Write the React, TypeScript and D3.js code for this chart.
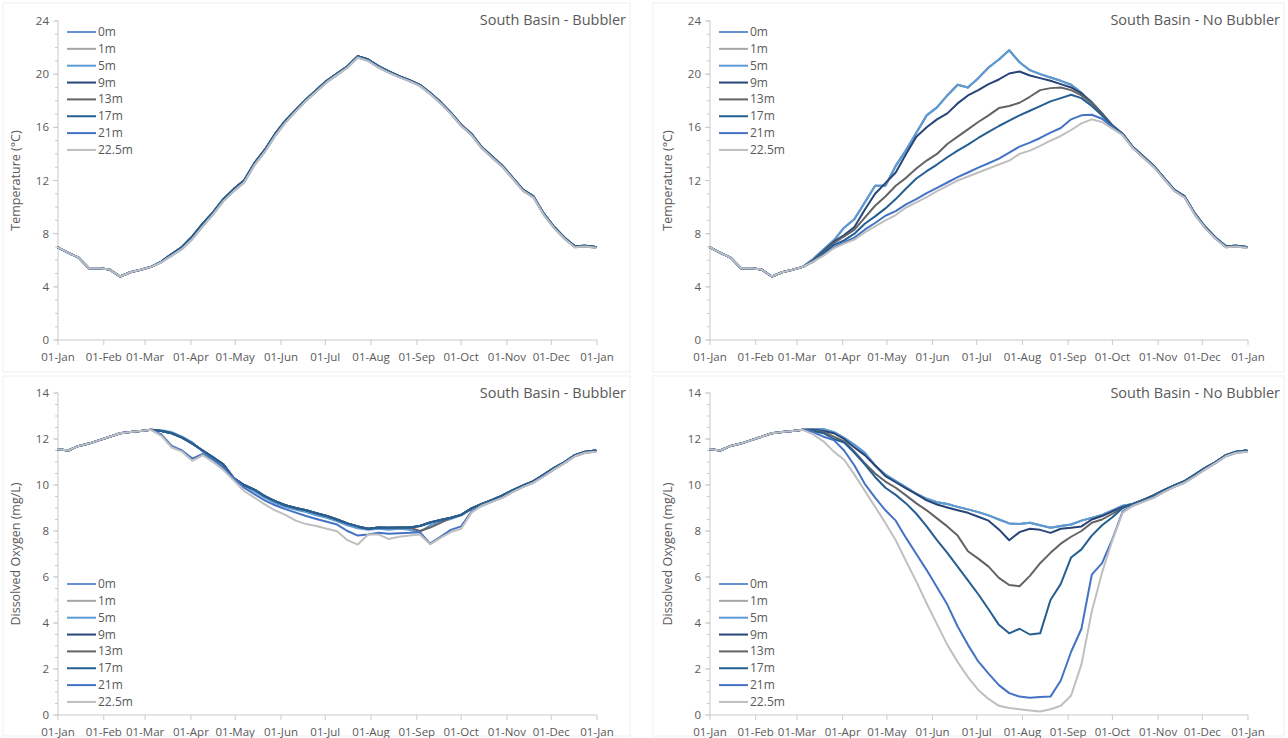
import React from "react";
import * as d3 from "d3";

// Sample dates (day of year) shared by every logger series
const sampleDays = [
  0, 7, 14, 21, 28, 35, 42, 49, 56, 63, 70, 77, 84, 91, 98, 105, 112, 119, 126, 133,
  140, 147, 154, 161, 168, 175, 182, 189, 196, 203, 210, 217, 224, 231, 238, 245, 252,
  259, 266, 273, 280, 287, 294, 301, 308, 315, 322, 329, 336, 343, 350, 357, 364,
];

const monthStartDays = [0, 31, 59, 90, 120, 151, 181, 212, 243, 273, 304, 334, 365];
const monthLabels = [
  "01-Jan", "01-Feb", "01-Mar", "01-Apr", "01-May", "01-Jun", "01-Jul",
  "01-Aug", "01-Sep", "01-Oct", "01-Nov", "01-Dec", "01-Jan",
];

const depthLabels = ["0m", "1m", "5m", "9m", "13m", "17m", "21m", "22.5m"];
const depthColors = [
  "#6890d6", "#a5a5a5", "#5b9bd5", "#264478", "#636363", "#255e91", "#4472c4", "#bfbfbf",
];

// ---- Temperature (°C) ----
// Jan 1 – Mar 5 (fully mixed water column)
const tempWinter = [6.97, 6.55, 6.2, 5.4, 5.4, 5.3, 4.78, 5.1, 5.28, 5.5];
// Oct 8 – Dec 31 (after autumn turnover)
const tempAutumn = [15.5, 14.5, 13.8, 13.1, 12.2, 11.3, 10.8, 9.5, 8.5, 7.7, 7.05, 7.1, 7.0];
const tempAutumnDeep = [15.42, 14.42, 13.72, 13.02, 12.12, 11.22, 10.72, 9.42, 8.42, 7.62, 6.98, 7.03, 6.94];

// Mar 12 – Oct 1, bubbler station
const tempBubblerSummer = [
  5.9, 6.47, 7.0, 7.8, 8.75, 9.6, 10.6, 11.35, 12.0, 13.3,
  14.3, 15.5, 16.5, 17.3, 18.1, 18.8, 19.5, 20.05, 20.6, 21.35,
  21.1, 20.6, 20.2, 19.85, 19.55, 19.2, 18.6, 17.9, 17.1, 16.2,
];
const tempBubblerSummerDeep = [
  5.85, 6.35, 6.85, 7.6, 8.55, 9.45, 10.45, 11.2, 11.85, 13.15,
  14.15, 15.35, 16.35, 17.2, 18.0, 18.7, 19.4, 19.95, 20.5, 21.25,
  21.0, 20.5, 20.12, 19.78, 19.48, 19.12, 18.52, 17.82, 17.02, 16.12,
];

// Mar 12 – Oct 1, station without bubbler
const tempNoBub5m = [
  6.1, 6.8, 7.5, 8.45, 9.1, 10.35, 11.6, 11.6, 13.1, 14.3,
  15.6, 16.9, 17.5, 18.4, 19.2, 19.0, 19.7, 20.5, 21.1, 21.8,
  20.9, 20.3, 20.0, 19.75, 19.5, 19.2, 18.6, 17.7, 16.9, 16.1,
];
const tempNoBub9m = [
  6.0, 6.7, 7.4, 7.9, 8.5, 9.8, 11.0, 11.8, 12.6, 14.0,
  15.3, 16.0, 16.6, 17.05, 17.8, 18.4, 18.8, 19.25, 19.6, 20.05,
  20.2, 19.9, 19.7, 19.5, 19.25, 19.0, 18.55, 17.9, 17.05, 16.15,
];
const tempNoBub13m = [
  5.95, 6.6, 7.3, 7.8, 8.3, 9.2, 10.1, 10.8, 11.6, 12.2,
  12.9, 13.5, 14.0, 14.75, 15.3, 15.85, 16.4, 16.9, 17.45, 17.6,
  17.85, 18.3, 18.8, 18.95, 19.0, 18.8, 18.4, 17.85, 17.05, 16.15,
];
const tempNoBub17m = [
  5.9, 6.5, 7.15, 7.5, 8.0, 8.75, 9.3, 9.9, 10.6, 11.4,
  12.15, 12.7, 13.2, 13.75, 14.25, 14.7, 15.2, 15.65, 16.1, 16.5,
  16.9, 17.25, 17.6, 17.95, 18.2, 18.45, 18.2, 17.6, 16.9, 16.1,
];
const tempNoBub21m = [
  5.9, 6.4, 6.95, 7.35, 7.7, 8.3, 8.8, 9.35, 9.7, 10.2,
  10.6, 11.05, 11.45, 11.85, 12.25, 12.6, 12.97, 13.3, 13.65, 14.1,
  14.55, 14.85, 15.2, 15.6, 15.95, 16.6, 16.9, 16.95, 16.65, 16.0,
];
const tempNoBub225m = [
  5.9, 6.35, 6.9, 7.25, 7.55, 8.1, 8.55, 9.0, 9.4, 9.97,
  10.35, 10.75, 11.2, 11.6, 12.0, 12.3, 12.6, 12.9, 13.2, 13.5,
  14.0, 14.25, 14.6, 15.0, 15.35, 15.8, 16.3, 16.6, 16.4, 15.9,
];

// ---- Dissolved oxygen (mg/L) ----
// Jan 1 – Mar 5
const doWinter = [11.55, 11.5, 11.7, 11.8, 11.95, 12.1, 12.25, 12.3, 12.35, 12.4];
// Oct 15 – Dec 31
const doAutumn = [9.18, 9.35, 9.55, 9.78, 9.98, 10.17, 10.45, 10.75, 11.0, 11.3, 11.45, 11.5];
const doAutumnDeep = [9.1, 9.28, 9.45, 9.7, 9.92, 10.1, 10.38, 10.68, 10.95, 11.25, 11.4, 11.45];

// Mar 12 – Oct 8, bubbler station
const doBubblerUpper = [
  12.35, 12.25, 12.06, 11.8, 11.5, 11.2, 10.9, 10.3, 10.0, 9.8,
  9.52, 9.3, 9.12, 9.0, 8.9, 8.77, 8.65, 8.5, 8.33, 8.2,
  8.1, 8.15, 8.14, 8.15, 8.15, 8.22, 8.37, 8.48, 8.58, 8.7, 8.98,
];
const doBubbler5m = [
  12.38, 12.3, 12.1, 11.85, 11.45, 11.15, 10.85, 10.25, 9.95, 9.72,
  9.45, 9.22, 9.05, 8.92, 8.82, 8.68, 8.57, 8.42, 8.25, 8.12,
  8.05, 8.1, 8.05, 8.1, 8.05, 7.95, 8.25, 8.4, 8.52, 8.68, 8.95,
];
const doBubbler13m = [
  12.35, 12.25, 12.06, 11.8, 11.5, 11.2, 10.9, 10.3, 10.0, 9.8,
  9.52, 9.3, 9.12, 9.0, 8.9, 8.77, 8.65, 8.5, 8.33, 8.2,
  8.1, 8.15, 8.14, 8.15, 8.15, 8.0, 8.15, 8.35, 8.58, 8.7, 8.98,
];
const doBubbler21m = [
  12.2, 11.7, 11.5, 11.15, 11.35, 11.1, 10.75, 10.3, 9.88, 9.6,
  9.33, 9.12, 8.95, 8.8, 8.65, 8.52, 8.4, 8.28, 8.0, 7.8,
  7.85, 7.92, 7.88, 7.9, 7.92, 7.95, 7.45, 7.75, 8.05, 8.2, 8.85,
];
const doBubbler225m = [
  12.14, 11.63, 11.45, 11.05, 11.3, 11.0, 10.65, 10.2, 9.74, 9.45,
  9.16, 8.9, 8.7, 8.45, 8.3, 8.22, 8.1, 7.99, 7.6, 7.41,
  7.85, 7.85, 7.65, 7.75, 7.8, 7.85, 7.42, 7.7, 7.95, 8.1, 8.8,
];

// Mar 12 – Oct 8, station without bubbler
const doNoBub5m = [
  12.42, 12.43, 12.3, 12.05, 11.75, 11.4, 10.85, 10.45, 10.17, 9.9,
  9.62, 9.4, 9.25, 9.17, 9.05, 8.94, 8.82, 8.68, 8.5, 8.33,
  8.3, 8.36, 8.25, 8.14, 8.22, 8.28, 8.45, 8.57, 8.7, 8.9, 9.1,
];
const doNoBub9m = [
  12.4, 12.35, 12.25, 12.0, 11.63, 11.3, 10.85, 10.39, 10.12, 9.85,
  9.6, 9.33, 9.15, 9.02, 8.9, 8.79, 8.62, 8.45, 8.07, 7.6,
  7.95, 8.1, 8.05, 7.92, 8.1, 8.14, 8.2, 8.5, 8.65, 8.85, 9.05,
];
const doNoBub13m = [
  12.38, 12.3, 12.1, 11.9, 11.45, 10.95, 10.5, 10.15, 9.88, 9.55,
  9.2, 8.9, 8.55, 8.2, 7.8, 7.12, 6.8, 6.45, 5.96, 5.65,
  5.6, 6.05, 6.6, 7.05, 7.45, 7.75, 8.0, 8.36, 8.5, 8.75, 9.0,
];
const doNoBub17m = [
  12.35, 12.25, 12.0, 11.85, 11.4, 10.9, 10.35, 9.88, 9.57, 9.2,
  8.75, 8.2, 7.6, 7.05, 6.45, 5.85, 5.25, 4.6, 3.92, 3.55,
  3.75, 3.5, 3.55, 5.0, 5.7, 6.85, 7.2, 7.8, 8.25, 8.6, 9.0,
];
const doNoBub21m = [
  12.3, 12.1, 11.95, 11.5, 10.85, 10.05, 9.45, 8.9, 8.45, 7.7,
  7.0, 6.3, 5.55, 4.8, 3.85, 3.05, 2.33, 1.8, 1.3, 0.95,
  0.8, 0.75, 0.78, 0.8, 1.5, 2.75, 3.75, 6.1, 6.6, 7.65, 8.85,
];
const doNoBub225m = [
  12.2, 11.9, 11.45, 11.1, 10.45, 9.75, 9.05, 8.35, 7.6, 6.69,
  5.8, 4.85, 3.95, 3.05, 2.3, 1.65, 1.09, 0.7, 0.4, 0.3,
  0.25, 0.2, 0.15, 0.25, 0.4, 0.85, 2.2, 4.5, 6.2, 7.6, 8.8,
];

const tempSeries = (summer: number[], autumn: number[] = tempAutumn) => [...tempWinter, ...summer, ...autumn];
const doSeries = (summer: number[], autumn: number[] = doAutumn) => [...doWinter, ...summer, ...autumn];

const tempBubbler = [
  tempSeries(tempBubblerSummer), tempSeries(tempBubblerSummer), tempSeries(tempBubblerSummer),
  tempSeries(tempBubblerSummer), tempSeries(tempBubblerSummer), tempSeries(tempBubblerSummer),
  tempSeries(tempBubblerSummerDeep, tempAutumnDeep), tempSeries(tempBubblerSummerDeep, tempAutumnDeep),
];
const tempNoBubbler = [
  tempSeries(tempNoBub5m), tempSeries(tempNoBub5m), tempSeries(tempNoBub5m),
  tempSeries(tempNoBub9m), tempSeries(tempNoBub13m), tempSeries(tempNoBub17m),
  tempSeries(tempNoBub21m, tempAutumnDeep), tempSeries(tempNoBub225m, tempAutumnDeep),
];
const doBubbler = [
  doSeries(doBubblerUpper), doSeries(doBubblerUpper), doSeries(doBubbler5m),
  doSeries(doBubblerUpper), doSeries(doBubbler13m), doSeries(doBubblerUpper),
  doSeries(doBubbler21m, doAutumnDeep), doSeries(doBubbler225m, doAutumnDeep),
];
const doNoBubbler = [
  doSeries(doNoBub5m), doSeries(doNoBub5m), doSeries(doNoBub5m),
  doSeries(doNoBub9m), doSeries(doNoBub13m), doSeries(doNoBub17m),
  doSeries(doNoBub21m, doAutumnDeep), doSeries(doNoBub225m, doAutumnDeep),
];

const TEXT = "#595959";
const AXIS = "#c9c9c9";
const FONT = "'Open Sans', 'DejaVu Sans', sans-serif";

type PanelProps = {
  title: string;
  yTitle: string;
  x0: number;
  x1: number;
  yTop: number;
  yBottom: number;
  yMax: number;
  majorStep: number;
  minorStep: number;
  series: number[][];
  legendTop: number;
  frame: [number, number, number, number];
};

function Panel(p: PanelProps) {
  const x = d3.scaleLinear().domain([0, 365]).range([p.x0, p.x1]);
  const y = d3.scaleLinear().domain([0, p.yMax]).range([p.yBottom, p.yTop]);
  const line = d3
    .line<number>()
    .x((_, i) => x(sampleDays[i]))
    .y((v) => y(v))
    .curve(d3.curveLinear);
  const majors = d3.range(0, p.yMax + 1e-6, p.majorStep);
  const minors = d3.range(0, p.yMax + 1e-6, p.minorStep);
  const [fx0, fy0, fx1, fy1] = p.frame;
  const legendX = p.x0 + 9;
  const legendStep = 16.85;

  return (
    <g>
      <rect x={fx0} y={fy0} width={fx1 - fx0} height={fy1 - fy0} fill="#fff" stroke="#efefef" strokeWidth={1} />
      <text x={fx1 - 4} y={fy0 + 22} textAnchor="end" fontSize={14.5} fill={TEXT} fontFamily={FONT}>
        {p.title}
      </text>
      <text
        transform={`translate(${p.x0 - 38},${(p.yTop + p.yBottom) / 2}) rotate(-90)`}
        textAnchor="middle"
        fontSize={12.5}
        fill={TEXT}
        fontFamily={FONT}
      >
        {p.yTitle}
      </text>

      {/* y axis */}
      <line x1={p.x0} x2={p.x0} y1={p.yTop} y2={p.yBottom} stroke={AXIS} />
      {minors.map((v) => (
        <line key={`mn${v}`} x1={p.x0 - 3} x2={p.x0} y1={y(v)} y2={y(v)} stroke={AXIS} />
      ))}
      {majors.map((v) => (
        <g key={`mj${v}`}>
          <line x1={p.x0 - 5} x2={p.x0} y1={y(v)} y2={y(v)} stroke={AXIS} />
          <text x={p.x0 - 9} y={y(v) + 4} textAnchor="end" fontSize={11.5} fill={TEXT} fontFamily={FONT}>
            {v}
          </text>
        </g>
      ))}

      {/* x axis */}
      <line x1={p.x0} x2={p.x1} y1={p.yBottom} y2={p.yBottom} stroke={AXIS} />
      {monthStartDays.map((d, i) => (
        <g key={`m${i}`}>
          <line x1={x(d)} x2={x(d)} y1={p.yBottom} y2={p.yBottom + 5} stroke={AXIS} />
          <text x={x(d)} y={p.yBottom + 21} textAnchor="middle" fontSize={11.5} fill={TEXT} fontFamily={FONT}>
            {monthLabels[i]}
          </text>
        </g>
      ))}

      {/* series */}
      {p.series.map((vals, i) => (
        <path
          key={`s${i}`}
          d={line(vals) ?? ""}
          fill="none"
          stroke={depthColors[i]}
          strokeWidth={2}
          strokeLinejoin="round"
          strokeLinecap="round"
        />
      ))}

      {/* legend */}
      {depthLabels.map((lab, i) => {
        const ly = p.legendTop + i * legendStep;
        return (
          <g key={`l${i}`}>
            <line x1={legendX} x2={legendX + 29} y1={ly} y2={ly} stroke={depthColors[i]} strokeWidth={2} />
            <text x={legendX + 31} y={ly + 4} fontSize={12} fill={TEXT} fontFamily={FONT}>
              {lab}
            </text>
          </g>
        );
      })}
    </g>
  );
}

export default function App() {
  return (
    <svg
      width={1288}
      height={738}
      style={{ position: "absolute", left: 0, top: 0, background: "#fff" }}
    >
      <Panel
        title="South Basin - Bubbler"
        yTitle="Temperature (°C)"
        x0={58}
        x1={597}
        yTop={21}
        yBottom={340}
        yMax={24}
        majorStep={4}
        minorStep={1}
        series={tempBubbler}
        legendTop={32}
        frame={[3, 3, 630, 372]}
      />
      <Panel
        title="South Basin - No Bubbler"
        yTitle="Temperature (°C)"
        x0={710}
        x1={1248}
        yTop={21}
        yBottom={340}
        yMax={24}
        majorStep={4}
        minorStep={1}
        series={tempNoBubbler}
        legendTop={32}
        frame={[653, 3, 1284, 372]}
      />
      <Panel
        title="South Basin - Bubbler"
        yTitle="Dissolved Oxygen (mg/L)"
        x0={58}
        x1={597}
        yTop={393}
        yBottom={715}
        yMax={14}
        majorStep={2}
        minorStep={0.5}
        series={doBubbler}
        legendTop={584}
        frame={[3, 376, 630, 736]}
      />
      <Panel
        title="South Basin - No Bubbler"
        yTitle="Dissolved Oxygen (mg/L)"
        x0={710}
        x1={1248}
        yTop={393}
        yBottom={715}
        yMax={14}
        majorStep={2}
        minorStep={0.5}
        series={doNoBubbler}
        legendTop={584}
        frame={[653, 376, 1284, 736]}
      />
    </svg>
  );
}
